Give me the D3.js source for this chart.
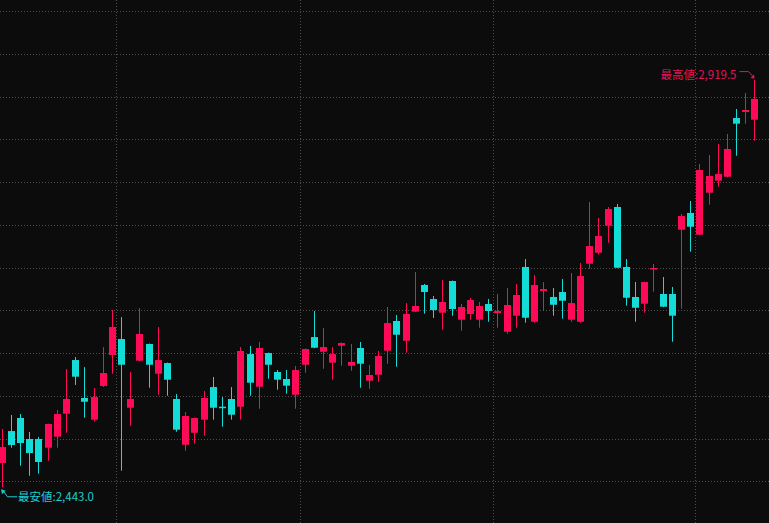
<!DOCTYPE html>
<html>
<head>
<meta charset="utf-8">
<script src="https://cdn.jsdelivr.net/npm/d3@7"></script>
<style>
html,body{margin:0;padding:0;background:#0c0c0c;}
svg{display:block;}
</style>
</head>
<body>
<svg id="chart" width="769" height="523"></svg>
<script>
// ---- data ----
const days = d3.range(1, 84);            // 83 daily sessions
const monthStarts = [14, 34, 55, 77];    // first session of each new month
const yTicks = [2450, 2500, 2550, 2600, 2650, 2700, 2750, 2800, 2850, 2900, 2950, 3000];

const opens = [2471.4,2508.8,2524.1,2499.5,2499.5,2489.3,2502.2,2529.1,2591.9,2547.5,2522.1,2561.5,2597.8,2616.5,2536.1,2591.1,2610.7,2575.9,2588.4,2546.3,2492.8,2506.8,2522.1,2560.3,2537.3,2546.3,2537.3,2598.9,2560.7,2600.1,2577.9,2569.7,2551.3,2586.4,2618.8,2601.6,2588.8,2608.7,2585.3,2606.0,2567.7,2574.7,2602.8,2637.6,2614.5,2648.5,2679.7,2663.3,2647.3,2684.4,2639.1,2645.8,2639.1,2657.5,2646.9,2625.0,2643.8,2700.8,2636.7,2672.7,2665.7,2671.5,2639.1,2636.7,2704.6,2717.5,2749.1,2771.0,2700.8,2665.7,2657.8,2698.8,2669.2,2669.2,2744.4,2764.0,2738.6,2787.7,2801.8,2806.4,2875.1,2882.2,2873.1];
const highs = [2511.2,2527.6,2528.7,2507.7,2501.8,2517.5,2533.4,2581.4,2595.4,2583.7,2559.2,2607.1,2650.4,2642.2,2577.9,2652.8,2611.2,2630.5,2588.9,2552.1,2531.1,2524.6,2555.6,2572.0,2548.6,2560.3,2607.1,2608.3,2613.0,2600.6,2580.2,2580.2,2584.9,2605.3,2649.3,2629.4,2607.1,2612.3,2610.7,2613.0,2586.1,2602.5,2654.0,2644.6,2658.6,2694.9,2680.9,2666.8,2685.6,2684.9,2657.5,2664.5,2659.8,2663.3,2669.2,2676.2,2680.9,2710.1,2691.4,2683.2,2676.2,2686.7,2693.7,2705.4,2776.8,2758.1,2771.0,2774.5,2710.1,2683.2,2683.7,2704.3,2689.1,2677.4,2762.8,2778.0,2821.3,2831.8,2844.7,2856.4,2885.7,2904.4,2919.5];
const lows = [2443.0,2489.3,2468.2,2456.5,2458.9,2474.1,2489.3,2506.8,2562.7,2524.4,2519.7,2560.3,2575.9,2462.4,2515.0,2590.5,2559.5,2551.3,2550.1,2508.0,2485.8,2494.0,2503.3,2522.1,2513.9,2522.1,2522.1,2550.1,2534.9,2570.0,2557.2,2552.5,2534.9,2577.1,2605.8,2581.7,2568.9,2585.3,2579.4,2559.5,2558.3,2566.5,2587.6,2584.1,2600.5,2648.0,2646.1,2641.1,2627.4,2643.8,2626.2,2639.1,2629.7,2636.7,2629.7,2622.7,2629.7,2635.6,2635.6,2649.3,2643.8,2640.3,2636.7,2635.6,2698.8,2715.2,2729.2,2699.4,2655.5,2636.7,2647.3,2671.9,2653.8,2613.3,2652.0,2718.7,2738.1,2773.7,2794.7,2806.0,2831.0,2868.5,2848.6];
const closes = [2490.1,2492.5,2494.8,2483.1,2472.6,2517.0,2528.7,2546.3,2572.4,2543.1,2548.6,2576.7,2630.5,2586.4,2546.3,2622.4,2586.4,2591.9,2568.9,2510.4,2526.4,2524.1,2547.5,2536.1,2536.1,2527.9,2602.5,2565.4,2606.0,2586.4,2568.9,2561.9,2580.2,2604.8,2606.3,2607.1,2598.9,2611.8,2589.6,2587.6,2574.4,2596.6,2635.2,2621.5,2645.8,2655.1,2671.5,2650.4,2659.8,2651.6,2654.0,2662.1,2655.1,2649.3,2649.3,2656.3,2668.0,2641.4,2679.7,2675.0,2656.6,2661.3,2658.6,2690.2,2725.3,2737.0,2768.6,2699.9,2664.8,2653.1,2683.2,2699.6,2654.3,2643.8,2760.4,2747.9,2814.3,2807.3,2809.6,2838.9,2868.5,2884.5,2897.4];

const highLabel = "最高値";
const lowLabel = "最安値";

// ---- styles ----
const UP = "#ff0a57", DOWN = "#14dcd6";
const W = 769, H = 523;

const data = days.map((d, i) => ({day: d, o: opens[i], h: highs[i], l: lows[i], c: closes[i]}));

const svg = d3.select("#chart");
svg.append("rect").attr("width", W).attr("height", H).attr("fill", "#0c0c0c");

const x = d3.scaleBand().domain(days).range([-2.89, 759.05]).padding(0);
const y = d3.scaleLinear().domain([2450, 3000]).range([481.3, 11.3]);
const step = x.step();
const cx = d => x(d) + step / 2;
const bodyW = 7;

// grid
const grid = svg.append("g").attr("stroke", "#4d4d4d").attr("stroke-width", 1).attr("stroke-dasharray", "1,2");
grid.selectAll("line.h").data(yTicks).join("line")
  .attr("x1", 0).attr("x2", W)
  .attr("y1", d => Math.round(y(d)) + 0.5).attr("y2", d => Math.round(y(d)) + 0.5);
grid.selectAll("line.v").data(monthStarts).join("line")
  .attr("y1", 0).attr("y2", H)
  .attr("x1", d => Math.round(x(d)) + 0.5).attr("x2", d => Math.round(x(d)) + 0.5);

// candles
const g = svg.append("g");
const cand = g.selectAll("g.c").data(data).join("g")
  .attr("fill", d => d.c >= d.o ? UP : DOWN)
  .attr("stroke", d => d.c >= d.o ? UP : DOWN);
cand.append("line")
  .attr("x1", d => Math.round(cx(d.day)) + 0.5).attr("x2", d => Math.round(cx(d.day)) + 0.5)
  .attr("y1", d => y(d.h)).attr("y2", d => y(d.l))
  .attr("stroke-width", 1);
cand.append("rect")
  .attr("stroke", "none")
  .attr("x", d => Math.round(cx(d.day)) + 0.5 - bodyW / 2)
  .attr("width", bodyW)
  .attr("y", d => y(Math.max(d.o, d.c)))
  .attr("height", d => Math.max(1.5, Math.abs(y(d.o) - y(d.c))));

// annotations
const fmt = d3.format(",.1f");
const iMax = d3.maxIndex(highs), iMin = d3.minIndex(lows);
const hx = Math.round(cx(days[iMax])) + 0.5, hy = y(highs[iMax]);
const lx = Math.round(cx(days[iMin])) + 0.5, ly = y(lows[iMin]);

const font = "'Noto Sans CJK JP', 'Noto Sans', sans-serif";
const HIGH_C = "#e8135a", LOW_C = "#1bcfcf";

svg.append("path")
  .attr("d", `M${hx - 15},${hy - 8.5} H${hx - 6} L${hx - 1.5},${hy - 3.5}`)
  .attr("fill", "none").attr("stroke", HIGH_C).attr("stroke-width", 1);
svg.append("path")
  .attr("d", `M${hx},${hy - 1.5} L${hx - 4},${hy - 2} L${hx - 0.5},${hy - 5.5} Z`)
  .attr("fill", HIGH_C);
svg.append("text")
  .attr("x", hx - 18).attr("y", hy - 1.5)
  .attr("text-anchor", "end")
  .attr("font-family", font).attr("font-size", 11.5)
  .attr("fill", HIGH_C)
  .text(`${highLabel}:${fmt(highs[iMax])}`);

svg.append("path")
  .attr("d", `M${lx + 1},${ly + 4} L${lx + 5},${ly + 9.5} H${lx + 14.5}`)
  .attr("fill", "none").attr("stroke", LOW_C).attr("stroke-width", 1);
svg.append("path")
  .attr("d", `M${lx - 1.5},${ly + 2} L${lx + 3},${ly + 3.5} L${lx - 0.5},${ly + 7} Z`)
  .attr("fill", LOW_C);
svg.append("text")
  .attr("x", lx + 15.5).attr("y", ly + 13.5)
  .attr("text-anchor", "start")
  .attr("font-family", font).attr("font-size", 11.5)
  .attr("fill", LOW_C)
  .text(`${lowLabel}:${fmt(lows[iMin])}`);
</script>
</body>
</html>
